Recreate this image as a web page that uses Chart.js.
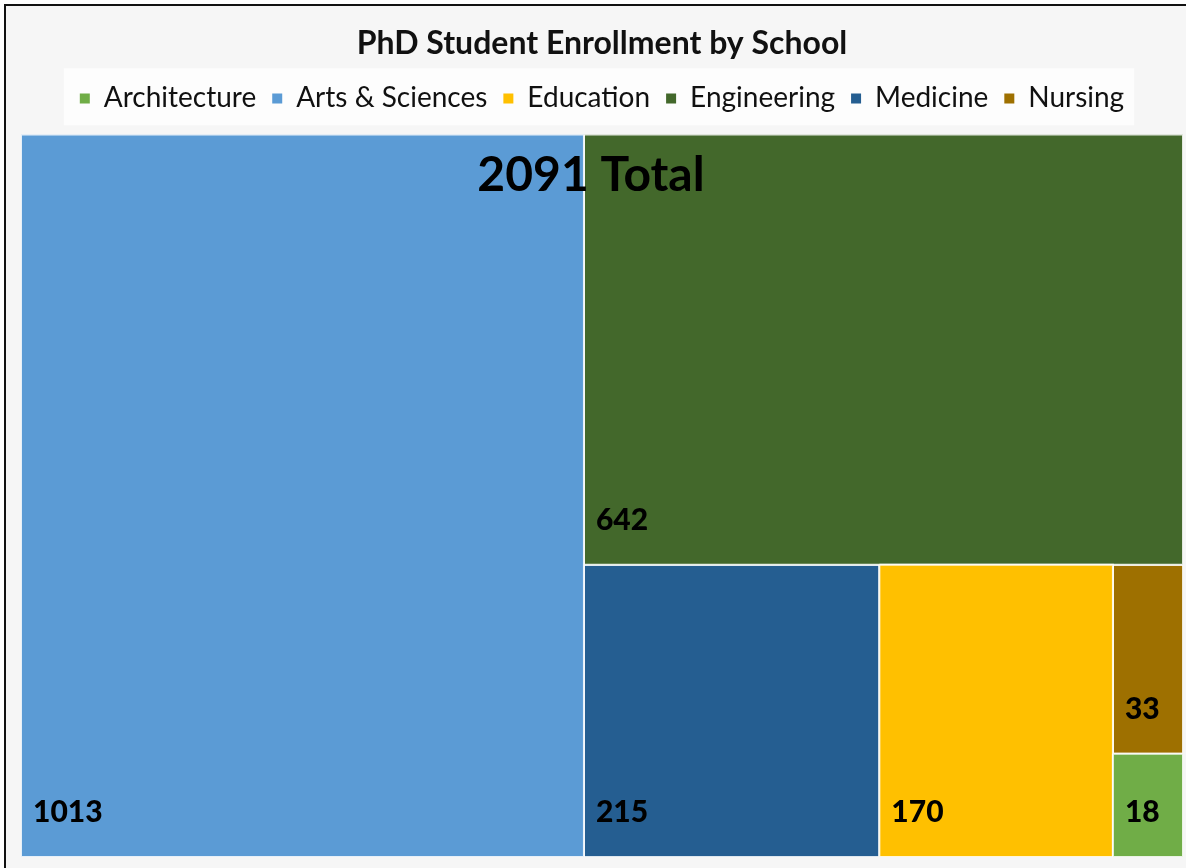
<!DOCTYPE html>
<html>
<head>
<meta charset="utf-8">
<script src="https://cdn.jsdelivr.net/npm/chart.js@4.4.1/dist/chart.umd.min.js"></script>
<style>
  html, body { margin: 0; padding: 0; background: #ffffff; }
  #frame {
    position: absolute; left: 4px; top: 4px; width: 1220px; height: 900px;
    border: 2px solid #111; background: #f6f6f6;
  }
  #wrap { position: absolute; left: 0; top: 0; width: 1186px; height: 868px; }
</style>
</head>
<body>
<div id="frame"></div>
<div id="wrap"><canvas id="chart" width="1186" height="868"></canvas></div>
<script>
// Schools in legend order, with enrollment and colours
const schools = ['Architecture', 'Arts & Sciences', 'Education', 'Engineering', 'Medicine', 'Nursing'];
const enrollment = [18, 1013, 170, 642, 215, 33];
const colors = ['#70AD47', '#5B9BD5', '#FFC000', '#43682B', '#255E91', '#9E7000'];

// Axis range of the treemap (same aspect as the plot area)
const AREA_W = 1162;
const AREA_H = 724;

const total = enrollment.reduce((a, b) => a + b, 0);

// Squarified treemap layout, returns one rectangle per school index
function squarify(values, w, h) {
  const order = values.map((v, i) => i).sort((a, b) => values[b] - values[a]);
  const scale = (w * h) / values.reduce((a, b) => a + b, 0);
  const rects = [];
  let x = 0, y = 0, rw = w, rh = h;
  let rest = order.slice();

  const worst = (row, side) => {
    const s = row.reduce((a, i) => a + values[i] * scale, 0);
    let m = 0;
    row.forEach(i => {
      const a = values[i] * scale;
      m = Math.max(m, (side * side * a) / (s * s), (s * s) / (side * side * a));
    });
    return m;
  };

  while (rest.length) {
    const side = Math.min(rw, rh);
    let row = [rest[0]];
    let k = 1;
    while (k < rest.length && worst(row.concat(rest[k]), side) <= worst(row, side)) {
      row.push(rest[k]);
      k++;
    }
    rest = rest.slice(k);
    const s = row.reduce((a, i) => a + values[i] * scale, 0);
    if (rh <= rw) {
      // column on the left
      const cw = s / rh;
      let cy = y;
      row.forEach(i => {
        const ch = values[i] * scale / cw;
        rects[i] = { x0: x, x1: x + cw, y0: cy, y1: cy + ch };
        cy += ch;
      });
      x += cw; rw -= cw;
    } else {
      // row along the top
      const ch = s / rw;
      let cx = x;
      row.forEach(i => {
        const cw = values[i] * scale / ch;
        rects[i] = { x0: cx, x1: cx + cw, y0: y, y1: y + ch };
        cx += cw;
      });
      y += ch; rh -= ch;
    }
  }
  return rects;
}

const cells = squarify(enrollment, AREA_W, AREA_H);

const datasets = schools.map((name, i) => {
  const r = cells[i];
  return {
    label: name,
    data: [
      { x: r.x0, y: r.y0 }, { x: r.x1, y: r.y0 },
      { x: r.x1, y: r.y1 }, { x: r.x0, y: r.y1 }, { x: r.x0, y: r.y0 }
    ],
    value: enrollment[i],
    showLine: true,
    fill: 'shape',
    backgroundColor: colors[i],
    borderColor: 'rgba(255,255,255,0.85)',
    borderWidth: 2,
    pointRadius: 0,
    tension: 0
  };
});

const FONT = 'Lato, "Open Sans", sans-serif';

// light panel behind the legend items
const legendPanel = {
  id: 'legendPanel',
  beforeDraw(chart) {
    const boxes = chart.legend.legendHitBoxes;
    if (!boxes || !boxes.length) return;
    const left = boxes[0].left - 16;
    const last = boxes[boxes.length - 1];
    const right = last.left + last.width + 10;
    const cy = boxes[0].top + boxes[0].height / 2;
    const ctx = chart.ctx;
    ctx.save();
    ctx.fillStyle = '#fdfdfd';
    ctx.fillRect(left, cy - 30, right - left, 57);
    ctx.restore();
  }
};

// value labels in each cell and the total
const cellLabels = {
  id: 'cellLabels',
  afterDatasetsDraw(chart) {
    const { ctx, scales: { x, y } } = chart;
    ctx.save();
    ctx.fillStyle = '#000';
    ctx.font = '900 30px ' + FONT;
    ctx.textAlign = 'left';
    ctx.textBaseline = 'alphabetic';
    chart.data.datasets.forEach((ds, i) => {
      const r = cells[i];
      const px = x.getPixelForValue(r.x0) + 12;
      const py = y.getPixelForValue(r.y1) - 35;
      ctx.fillText(String(ds.value), px, py);
    });
    ctx.font = 'bold 48px ' + FONT;
    ctx.textAlign = 'center';
    ctx.fillText(total + ' Total', 591, 191);
    ctx.restore();
  }
};

new Chart(document.getElementById('chart'), {
  type: 'scatter',
  data: { datasets },
  options: {
    responsive: false,
    animation: false,
    layout: { padding: { left: 21, right: 3, bottom: 11, top: 0 } },
    scales: {
      // x axis sits on top only to leave a gap under the legend
      x: {
        type: 'linear', min: 0, max: AREA_W, position: 'top',
        grid: { display: false, drawTicks: true, tickLength: 12 },
        border: { display: false },
        ticks: { display: false }
      },
      y: { type: 'linear', min: 0, max: AREA_H, reverse: true, display: false }
    },
    plugins: {
      title: {
        display: true,
        text: 'PhD Student Enrollment by School',
        color: '#111',
        font: { family: FONT, size: 32, weight: 'bold' },
        padding: { top: 24, bottom: 6 }
      },
      legend: {
        display: true,
        position: 'top',
        labels: {
          color: '#111',
          font: { family: FONT, size: 28 },
          boxWidth: 10,
          boxHeight: 10,
          padding: 16,
          generateLabels(chart) {
            return chart.data.datasets.map((ds, i) => ({
              text: ds.label,
              fillStyle: ds.backgroundColor,
              strokeStyle: ds.backgroundColor,
              lineWidth: 0,
              fontColor: '#111',
              datasetIndex: i,
              hidden: false
            }));
          }
        }
      },
      tooltip: { enabled: false }
    }
  },
  plugins: [legendPanel, cellLabels]
});
</script>
</body>
</html>
